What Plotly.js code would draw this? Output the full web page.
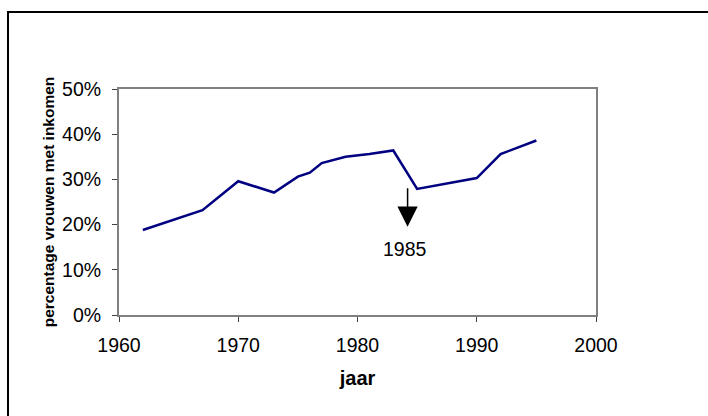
<!DOCTYPE html>
<html>
<head>
<meta charset="utf-8">
<script src="https://cdn.plot.ly/plotly-3.0.1.min.js"></script>
<style>
  html, body { margin: 0; padding: 0; background: #fff; }
  #wrap { position: relative; width: 708px; height: 416px; overflow: hidden; }
  #frame { position: absolute; left: 7px; top: 11px; width: 760px; height: 460px;
           border-left: 2px solid #000; border-top: 2px solid #000; pointer-events: none; }
  #chart { position: absolute; left: 0; top: 0; width: 708px; height: 416px; }
</style>
</head>
<body>
<div id="wrap">
  <div id="chart"></div>
  <div id="frame"></div>
</div>
<script>
const years = [1962, 1967, 1970, 1973, 1975, 1976, 1977, 1979, 1981, 1983, 1985, 1990, 1992, 1994, 1995];
const shares = [0.188, 0.232, 0.296, 0.271, 0.306, 0.315, 0.336, 0.350, 0.356, 0.364, 0.279, 0.303, 0.356, 0.375, 0.386];
const yTickVals = [0, 0.1, 0.2, 0.3, 0.4, 0.5];
const xTickVals = [1960, 1970, 1980, 1990, 2000];
const arrowYear = 1984.2;
const arrowTipValue = 0.195;
const labelText = "1985";
const labelValue = 0.146;

const font = "Liberation Sans, Arial, sans-serif";

const trace = {
  x: years, y: shares, type: "scatter", mode: "lines",
  line: { color: "#000080", width: 2.5 },
  hoverinfo: "skip"
};

const layout = {
  width: 708, height: 416,
  margin: { l: 119, r: 112, t: 89, b: 101 },
  paper_bgcolor: "#fff", plot_bgcolor: "#fff",
  showlegend: false,
  font: { family: font, color: "#000", size: 19.5 },
  xaxis: {
    range: [1960, 2000], tickvals: xTickVals, ticktext: xTickVals.map(String),
    showgrid: false, zeroline: false,
    showline: true, linecolor: "#808080", linewidth: 2, mirror: true,
    ticks: "outside", ticklen: 5, tickcolor: "#404040", tickwidth: 1,
    ticklabelstandoff: 7,
    tickfont: { size: 19.5, family: font },
    title: { text: "<b>jaar</b>", font: { size: 20, family: font }, standoff: 16 }
  },
  yaxis: {
    range: [0, 0.5], tickvals: yTickVals, tickformat: ".0%",
    showgrid: false, zeroline: false,
    showline: true, linecolor: "#808080", linewidth: 2, mirror: true,
    ticks: "outside", ticklen: 5, tickcolor: "#404040", tickwidth: 1,
    ticklabelstandoff: 7,
    tickfont: { size: 19.5, family: font },
    title: { text: "<b>percentage vrouwen met inkomen</b>", font: { size: 15.5, family: font }, standoff: 4 }
  },
  annotations: [
    {
      x: arrowYear, y: arrowTipValue, xref: "x", yref: "y",
      text: "", showarrow: true, ax: 0, ay: -40,
      arrowhead: 2, arrowsize: 2.7, arrowwidth: 1.5, arrowcolor: "#000"
    },
    {
      x: arrowYear - 0.2, y: labelValue, xref: "x", yref: "y",
      text: labelText, showarrow: false,
      font: { size: 19.5, family: font, color: "#000" }
    }
  ]
};

Plotly.newPlot("chart", [trace], layout, { staticPlot: true, displayModeBar: false });
</script>
</body>
</html>
